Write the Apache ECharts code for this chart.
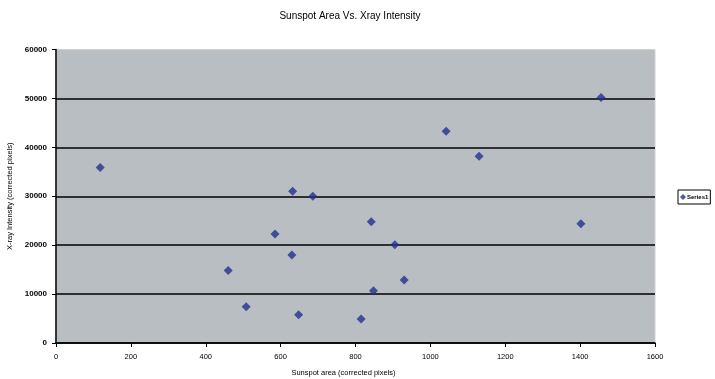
<!DOCTYPE html>
<html><head><meta charset="utf-8">
<script src="https://cdn.jsdelivr.net/npm/echarts@6/dist/echarts.min.js"></script>
<style>html,body{margin:0;padding:0;background:#fff}#c{width:715px;height:379px}</style>
</head><body><div id="c"></div>
<script>
const title = 'Sunspot Area Vs. Xray Intensity';
const xName = 'Sunspot area (corrected pixels)';
const yName = 'X-ray Intensity (corrected pixels)';
const seriesName = 'Series1';
const sunspotArea = [118, 460, 508, 585, 630, 632, 648, 686, 815, 842, 848, 905, 930, 1042, 1130, 1402, 1456];
const xrayIntensity = [35900, 14800, 7400, 22300, 18000, 31000, 5800, 30000, 4900, 24800, 10700, 20100, 12900, 43300, 38200, 24400, 50200];

const chart = echarts.init(document.getElementById('c'));
const font = 'Liberation Sans';
chart.setOption({
  animation: false,
  title: { text: title, left: 345, top: 6, textAlign: 'center',
    textStyle: { fontFamily: font, fontSize: 10, fontWeight: 'normal', color: '#000' } },
  legend: { data: [{ name: seriesName, icon: 'diamond' }], left: 678, top: 190, orient: 'vertical',
    borderColor: '#000', borderWidth: 1, borderRadius: 0, padding: [4, 2, 4, 2],
    itemWidth: 6, itemHeight: 6, itemGap: 2,
    textStyle: { fontFamily: font, fontSize: 6, fontWeight: 'bold', color: '#000', padding: [0, 0, 0, -4] } },
  grid: { left: 56, right: 60, top: 49.5, bottom: 36, outerBoundsMode: 'none', containLabel: false,
    show: true, backgroundColor: '#b9bec2', borderColor: '#cfcfcf', borderWidth: 1 },
  xAxis: { type: 'value', min: 0, max: 1600, interval: 200, name: xName, nameLocation: 'middle', nameGap: 26,
    nameTextStyle: { fontFamily: font, fontSize: 7.5, color: '#000', padding: [0, 24, 0, 0] },
    axisLine: { show: true, onZero: false, lineStyle: { color: '#000', width: 1.5 } },
    axisTick: { show: true, length: 4, lineStyle: { color: '#000' } },
    axisLabel: { fontFamily: font, fontSize: 7.5, color: '#000', margin: 10, formatter: v => String(v) },
    splitLine: { show: false } },
  yAxis: { type: 'value', min: 0, max: 60000, interval: 10000, name: yName, nameLocation: 'middle', nameGap: 32,
    nameTextStyle: { fontFamily: font, fontSize: 7.5, color: '#000' },
    axisLine: { show: true, onZero: false, lineStyle: { color: '#000', width: 1.5 } },
    axisTick: { show: true, length: 4, lineStyle: { color: '#000' } },
    axisLabel: { fontFamily: font, fontSize: 8, fontWeight: 'bold', color: '#000', margin: 9, formatter: v => String(v) },
    splitLine: { show: true, showMaxLine: false, lineStyle: { color: '#000', width: 1.5 } } },
  series: [{ name: seriesName, type: 'scatter', symbol: 'diamond', symbolSize: 9,
    itemStyle: { color: '#232f91' },
    data: sunspotArea.map((x, i) => [x, xrayIntensity[i]]) }]
});
</script></body></html>
